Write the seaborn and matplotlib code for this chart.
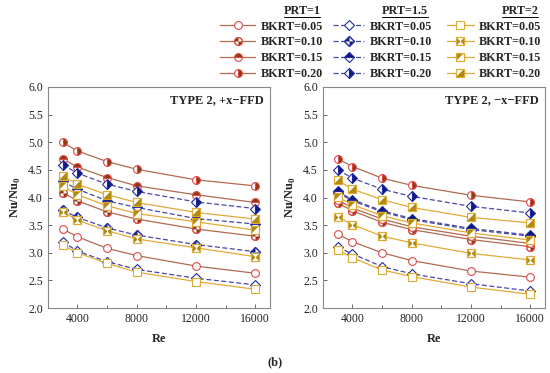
import numpy as np
import matplotlib
matplotlib.use('Agg')
import matplotlib.pyplot as plt
import seaborn as sns
from matplotlib.path import Path
from matplotlib.lines import Line2D
from matplotlib.ticker import MultipleLocator
from matplotlib.legend_handler import HandlerTuple

re_vals = [3000, 4000, 6000, 8000, 12000, 16000]
bkrt = ['0.05', '0.10', '0.15', '0.20']

# TYPE 2, +x-FFD  (rows: BKRT 0.05, 0.10, 0.15, 0.20)
plus_prt1 = [[3.43, 3.29, 3.08, 2.95, 2.76, 2.63],
             [4.09, 3.94, 3.74, 3.61, 3.43, 3.30],
             [4.70, 4.55, 4.36, 4.21, 4.05, 3.91],
             [5.00, 4.84, 4.65, 4.51, 4.32, 4.21]]
plus_prt15 = [[3.20, 3.03, 2.84, 2.70, 2.54, 2.42],
              [3.77, 3.64, 3.45, 3.32, 3.15, 3.02],
              [4.29, 4.15, 3.94, 3.82, 3.62, 3.52],
              [4.59, 4.44, 4.24, 4.11, 3.92, 3.80]]
plus_prt2 = [[3.14, 3.00, 2.81, 2.65, 2.48, 2.34],
             [3.74, 3.59, 3.40, 3.25, 3.09, 2.93],
             [4.21, 4.05, 3.85, 3.71, 3.56, 3.41],
             [4.39, 4.24, 4.05, 3.91, 3.73, 3.61]]

# TYPE 2, -x-FFD
minus_prt1 = [[3.34, 3.20, 3.00, 2.86, 2.67, 2.56],
              [3.90, 3.76, 3.55, 3.42, 3.24, 3.11],
              [3.96, 3.81, 3.61, 3.47, 3.30, 3.17],
              [4.70, 4.56, 4.35, 4.22, 4.04, 3.92]]
minus_prt15 = [[3.10, 2.98, 2.75, 2.62, 2.44, 2.31],
               [4.09, 3.94, 3.74, 3.60, 3.42, 3.30],
               [4.11, 3.96, 3.76, 3.62, 3.44, 3.32],
               [4.50, 4.35, 4.15, 4.02, 3.84, 3.72]]
minus_prt2 = [[3.05, 2.91, 2.69, 2.57, 2.38, 2.25],
              [3.65, 3.51, 3.30, 3.18, 2.99, 2.87],
              [4.01, 3.87, 3.67, 3.54, 3.36, 3.23],
              [4.31, 4.15, 3.96, 3.82, 3.64, 3.54]]

panels = [('TYPE 2, +x\u2212FFD', [plus_prt1, plus_prt15, plus_prt2]),
          ('TYPE 2, \u2212x\u2212FFD', [minus_prt1, minus_prt15, minus_prt2])]
prt_names = ['PRT=1', 'PRT=1.5', 'PRT=2']


def poly(*pts_list):
    paths = [Path(list(p) + [p[0]], [Path.MOVETO] + [Path.LINETO] * (len(p) - 1) + [Path.CLOSEPOLY])
             for p in pts_list]
    return Path.make_compound_path(*paths)


quart_circle = Path.make_compound_path(Path.wedge(90, 180), Path.wedge(270, 360))
quart_diamond = poly([(0, 0), (0, 1), (-1, 0)], [(0, 0), (0, -1), (1, 0)])
bowtie = poly([(-1, -1), (-1, 1), (0, 0)], [(1, -1), (1, 1), (0, 0)])
tri_ul = poly([(-1, -1), (-1, 1), (1, 1)])
tri_lr = poly([(-1, -1), (1, -1), (1, 1)])

# style per PRT: line colour, linestyle, edge colour, fill colour, base marker
prt_style = [
    dict(line='#B26A50', ls='-', edge='#DE4A48', fill='#8B3A0E', mk='o', ms=5.6),
    dict(line='#4848A8', ls=(0, (4, 2)), edge='#1E2A9E', fill='#0B1A80', mk='D', ms=4.6),
    dict(line='#E2AA38', ls='-', edge='#DDAA33', fill='#B08A10', mk='s', ms=5.2),
]
# per PRT, per BKRT: ('fs', fillstyle) or ('path', custom path, size factor)
fill_kind = [
    [('fs', 'none'), ('path', quart_circle, 1.0), ('fs', 'top'), ('fs', 'right')],
    [('fs', 'none'), ('path', quart_diamond, 1.414), ('fs', 'top'), ('fs', 'right')],
    [('fs', 'none'), ('path', bowtie, 1.0), ('path', tri_ul, 1.0), ('path', tri_lr, 1.0)],
]

sns.set_style('ticks')
plt.rcParams['font.family'] = ['Liberation Serif', 'DejaVu Serif']
plt.rcParams['mathtext.fontset'] = 'custom'
plt.rcParams['mathtext.rm'] = 'Liberation Serif'
plt.rcParams['mathtext.bf'] = 'Liberation Serif:bold'

fig = plt.figure(figsize=(5.5, 3.73), dpi=100)
ax1 = fig.add_axes([0.087, 0.174, 0.404, 0.593])
ax2 = fig.add_axes([0.587, 0.174, 0.404, 0.593])

legend_handles = [[], [], []]

for ax, (title, data) in zip([ax1, ax2], panels):
    for p, series in enumerate(data):
        st = prt_style[p]
        for b, vals in enumerate(series):
            kind = fill_kind[p][b]
            base = dict(color=st['line'], linestyle=st['ls'], lw=0.9, marker=st['mk'],
                        ms=st['ms'], mec=st['edge'], mew=0.8)
            if kind[0] == 'fs' and kind[1] != 'none':
                base.update(mfc=st['fill'], fillstyle=kind[1], markerfacecoloralt='white')
            else:
                base.update(mfc='white')
            sns.lineplot(x=re_vals, y=vals, ax=ax, **base)
            h = [Line2D([], [], **base)]
            if kind[0] == 'path':
                over = dict(linestyle='none', marker=kind[1], ms=st['ms'] * kind[2],
                            mfc=st['fill'], mec='none', mew=0)
                ax.plot(re_vals, vals, **over)
                edge = dict(linestyle='none', marker=st['mk'], ms=st['ms'],
                            mfc='none', mec=st['edge'], mew=0.8)
                ax.plot(re_vals, vals, **edge)
                h += [Line2D([], [], **over), Line2D([], [], **edge)]
            if ax is ax1:
                legend_handles[p].append(tuple(h))

    ax.set_xlim(2000, 17000)
    ax.set_ylim(2.0, 6.0)
    ax.set_xticks([4000, 8000, 12000, 16000])
    ax.xaxis.set_minor_locator(MultipleLocator(2000))
    ax.yaxis.set_major_locator(MultipleLocator(0.5))
    ax.yaxis.set_major_formatter(matplotlib.ticker.FormatStrFormatter('%.1f'))
    ax.tick_params(which='both', direction='in', labelsize=8.5, colors='#555555',
                   labelcolor='#222222', width=0.6)
    ax.tick_params(which='major', length=3)
    ax.tick_params(which='minor', length=2)
    for s in ax.spines.values():
        s.set_color('#888888')
        s.set_linewidth(0.8)
    ax.set_xlabel('Re', fontsize=9, fontweight='bold', labelpad=6)
    ax.set_ylabel(r'Nu/Nu$_\mathbf{0}$', fontsize=9, fontweight='bold', labelpad=4)
    ax.text(0.97, 0.94, title, transform=ax.transAxes, ha='right', va='center',
            fontsize=9, fontweight='bold')

# legend: three columns with underlined headers
leg_x = [220 / 550, 333 / 550, 447 / 550]
head_x = [302 / 550, 405 / 550, 520 / 550]
hlen = [2.9, 2.6, 2.2]
labels = ['BKRT=' + b for b in bkrt]
for p in range(3):
    fig.legend(legend_handles[p], labels, loc='upper left',
               bbox_to_anchor=(leg_x[p], 1 - 20.5 / 373), frameon=False,
               prop=dict(family='Liberation Serif', weight='bold', size=8.7),
               handlelength=hlen[p], handletextpad=0.45, labelspacing=0.32,
               borderpad=0, borderaxespad=0,
               handler_map={tuple: HandlerTuple(ndivide=1)})
    fig.text(head_x[p], 1 - 10.5 / 373, prt_names[p], ha='center', va='center',
             fontsize=8.7, fontweight='bold')
    w = 36 if p != 1 else 46
    fig.add_artist(Line2D([(head_x[p] * 550 - w / 2) / 550, (head_x[p] * 550 + w / 2) / 550],
                          [1 - 16.5 / 373, 1 - 16.5 / 373], transform=fig.transFigure,
                          color='black', lw=0.7))

fig.text(0.5, 1 - 362 / 373, '(b)', ha='center', va='center', fontsize=9, fontweight='bold')

fig.savefig('out.png', dpi=100)
